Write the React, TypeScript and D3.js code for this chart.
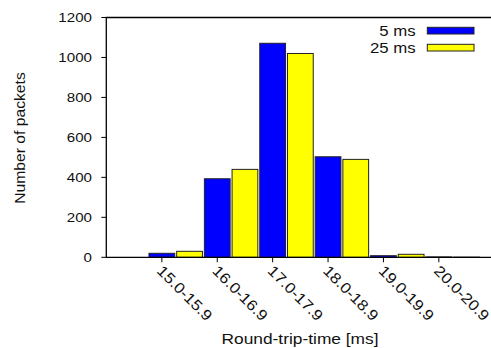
import * as d3 from 'd3'

const categories = ['15.0-15.9', '16.0-16.9', '17.0-17.9', '18.0-18.9', '19.0-19.9', '20.0-20.9']
const seriesNames = ['5 ms', '25 ms']
const values5ms = [20, 393, 1071, 503, 8, 2]
const values25ms = [30, 440, 1020, 490, 15, 1]
const yTicks = [0, 200, 400, 600, 800, 1000, 1200]

const COLORS = ['#0000ff', '#ffff00']
const FONT = '"Liberation Sans", Arial, Helvetica, sans-serif'
const STRETCH = 1.12

const W = 491
const H = 348
const left = 106.3
const top = 17.5
const bottom = 257.3

// text drawn with a slight horizontal stretch, like the original output
function SText({ x, y, rotate = 0, size, anchor = 'start', dy = '0', children }: {
  x: number; y: number; rotate?: number; size: number; anchor?: string; dy?: string; children: string
}) {
  return (
    <g transform={`translate(${x},${y}) rotate(${rotate}) scale(${STRETCH},1)`}>
      <text fontFamily={FONT} fontSize={size} textAnchor={anchor} dy={dy} fill="#111">
        {children}
      </text>
    </g>
  )
}

export default function App() {
  const series = [values5ms, values25ms]
  const y = d3.scaleLinear().domain([0, 1200]).range([bottom, top])
  const x = d3.scaleBand<string>().domain(categories).range([148, 480.4]).paddingInner(0).paddingOuter(0)
  const bw = x.bandwidth()
  const xs = d3.scaleBand<string>().domain(seriesNames).range([0, bw]).paddingInner(0.07).paddingOuter(0.035)
  const tickX = (c: string) => (x(c) ?? 0) + bw / 4

  return (
    <svg width={W} height={H} style={{ position: 'absolute', left: 0, top: 0 }}>
      <rect width={W} height={H} fill="#fff" />
      {series.map((vals, si) =>
        vals.map((v, i) => {
          const c = categories[i]
          const x0 = (x(c) ?? 0) + (xs(seriesNames[si]) ?? 0)
          return (
            <rect
              key={`${si}-${i}`}
              x={x0}
              y={y(v)}
              width={xs.bandwidth()}
              height={bottom - y(v)}
              fill={COLORS[si]}
              stroke="#222"
              strokeWidth={1}
            />
          )
        })
      )}
      {/* frame */}
      <path d={`M${W},${top}H${left}V${bottom}H${W}`} fill="none" stroke="#000" strokeWidth={1.3} />
      {yTicks.map(t => (
        <g key={t}>
          <line x1={left - 5} x2={left} y1={y(t)} y2={y(t)} stroke="#000" strokeWidth={1} />
          <SText x={92} y={y(t)} size={13.5} anchor="end" dy="0.36em">{String(t)}</SText>
        </g>
      ))}
      {categories.map(c => (
        <g key={c}>
          <line x1={tickX(c)} x2={tickX(c)} y1={bottom} y2={bottom + 5} stroke="#000" strokeWidth={1} />
          <SText x={tickX(c) - 2} y={268} rotate={45} size={15} dy="0.36em">{c}</SText>
        </g>
      ))}
      <SText x={20} y={138} rotate={-90} size={14} anchor="middle" dy="0.36em">Number of packets</SText>
      <SText x={300} y={344} size={15.5} anchor="middle">Round-trip-time [ms]</SText>
      {seriesNames.map((s, si) => (
        <g key={s}>
          <SText x={415.7} y={30.7 + si * 17} size={15} anchor="end" dy="0.36em">{s}</SText>
          <rect x={427.3} y={27.3 + si * 17} width={46.7} height={6.7} fill={COLORS[si]} stroke="#222" strokeWidth={1} />
        </g>
      ))}
    </svg>
  )
}
